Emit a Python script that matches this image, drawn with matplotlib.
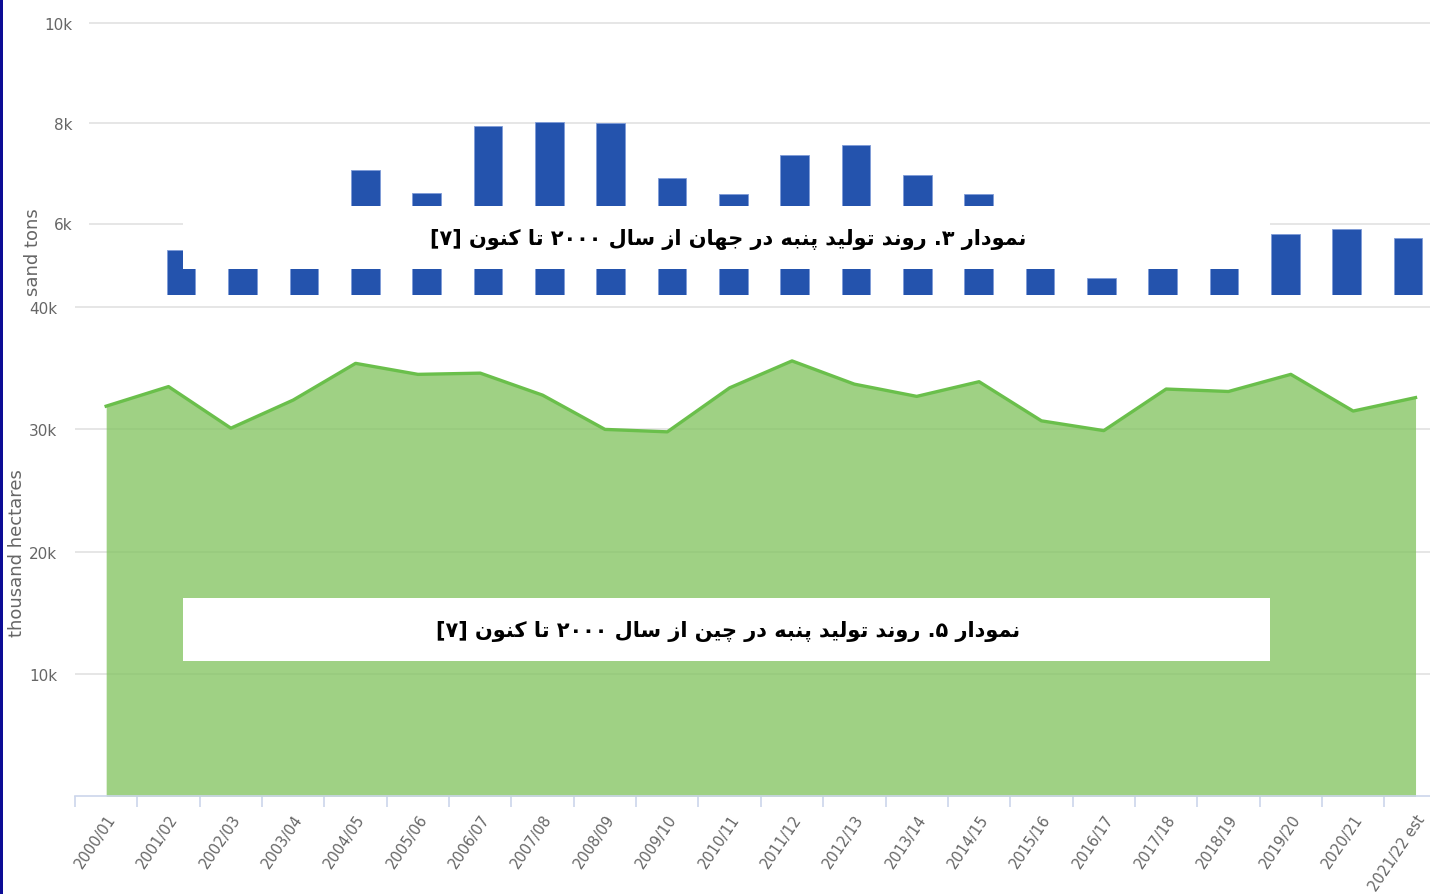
import re
import matplotlib

matplotlib.use('Agg')

import matplotlib.pyplot as plt
from matplotlib.patches import Rectangle

W, H = 1430, 895

seasons = ['2000/01', '2001/02', '2002/03', '2003/04', '2004/05', '2005/06',
           '2006/07', '2007/08', '2008/09', '2009/10', '2010/11', '2011/12',
           '2012/13', '2013/14', '2014/15', '2015/16', '2016/17', '2017/18',
           '2018/19', '2019/20', '2020/21', '2021/22 est']
# thousand hectares (lower chart)
area_vals = [31.9, 33.5, 30.1, 32.4, 35.4, 34.5, 34.6, 32.8, 30.0, 29.8, 33.4,
             35.6, 33.7, 32.7, 33.9, 30.7, 29.9, 33.3, 33.1, 34.5, 31.5, 32.6]
# upper chart bars (k), partly hidden behind caption
bar_vals = [5.47, 5.9, 5.8, 7.07, 6.61, 7.95, 8.03, 8.0, 6.9, 6.58, 7.37,
            7.57, 6.97, 6.58, 5.8, 4.91, 5.6, 5.7, 5.8, 5.9, 5.72]
bar_ticks = [6, 8, 10]
bar_ticklabels = ['6k', '8k', '10k']
area_ticks = [10, 20, 30, 40]
area_ticklabels = ['10k', '20k', '30k', '40k']

caption_top = 'نمودار ۳. روند تولید پنبه در جهان از سال ۲۰۰۰ تا کنون [۷]'
caption_bottom = 'نمودار ۵. روند تولید پنبه در چین از سال ۲۰۰۰ تا کنون [۷]'

# persian shaping by hand (iso, fin, ini, med)
FORMS = {
    'ا': ('\uFE8D', '\uFE8E', None, None),
    'ب': ('\uFE8F', '\uFE90', '\uFE91', '\uFE92'),
    'پ': ('\uFB56', '\uFB57', '\uFB58', '\uFB59'),
    'ت': ('\uFE95', '\uFE96', '\uFE97', '\uFE98'),
    'ج': ('\uFE9D', '\uFE9E', '\uFE9F', '\uFEA0'),
    'چ': ('\uFB7A', '\uFB7B', '\uFB7C', '\uFB7D'),
    'د': ('\uFEA9', '\uFEAA', None, None),
    'ر': ('\uFEAD', '\uFEAE', None, None),
    'ز': ('\uFEAF', '\uFEB0', None, None),
    'س': ('\uFEB1', '\uFEB2', '\uFEB3', '\uFEB4'),
    'ک': ('\uFB8E', '\uFB8F', '\uFB90', '\uFB91'),
    'ل': ('\uFEDD', '\uFEDE', '\uFEDF', '\uFEE0'),
    'م': ('\uFEE1', '\uFEE2', '\uFEE3', '\uFEE4'),
    'ن': ('\uFEE5', '\uFEE6', '\uFEE7', '\uFEE8'),
    'ه': ('\uFEE9', '\uFEEA', '\uFEEB', '\uFEEC'),
    'و': ('\uFEED', '\uFEEE', None, None),
    'ی': ('\uFBFC', '\uFBFD', '\uFBFE', '\uFBFF'),
}


def dual(c):
    return c in FORMS and FORMS[c][2] is not None


def fa(s):
    out = []
    for i, ch in enumerate(s):
        if ch not in FORMS:
            out.append(ch)
            continue
        prev = s[i - 1] if i > 0 else ''
        nxt = s[i + 1] if i + 1 < len(s) else ''
        jp = dual(prev)
        jn = dual(ch) and nxt in FORMS
        f = FORMS[ch]
        if jp and jn:
            out.append(f[3])
        elif jp:
            out.append(f[1])
        elif jn:
            out.append(f[2])
        else:
            out.append(f[0])
    vis = ''.join(out)[::-1]
    vis = re.sub('[0-9\u06F0-\u06F9]+', lambda m: m.group(0)[::-1], vis)
    return vis.translate(str.maketrans('[]()', '][)('))


grey = '#666666'
grid = '#e6e6e6'

fig = plt.figure(figsize=(W / 100, H / 100), dpi=100)

# upper bar chart (cropped)
bx0 = 89
step = 61.34
c0 = 181.2
ax1 = fig.add_axes([bx0 / W, 1 - 296 / H, (W - bx0) / W, 296 / H])
ax1.bar(range(len(bar_vals)), bar_vals, width=0.466, color='#2453ad',
        edgecolor='#7f9bd8', linewidth=0.6, zorder=3)
ax1.set_xlim((bx0 - c0) / step, (W - c0) / step)
ax1.set_ylim(6 - 71.5 / 50.1, 6 + 224.5 / 50.1)
ax1.set_yticks(bar_ticks)
ax1.set_yticklabels(bar_ticklabels)
ax1.yaxis.grid(True, color=grid, linewidth=1.4)
ax1.set_axisbelow(True)
ax1.tick_params(axis='y', length=0, pad=12, labelcolor=grey, labelsize=11)
ax1.set_xticks([])
for s in ax1.spines.values():
    s.set_visible(False)
fig.text(33 / W, 1 - 252 / H, 'sand tons', rotation=90, ha='center',
         va='center', color=grey, fontsize=13)

# lower area chart
step2 = 62.35
ax2 = fig.add_axes([75 / W, 1 - 797.3 / H, 22 * step2 / W, (797.3 - 300) / H])
x = range(len(seasons))
ax2.fill_between(x, area_vals, 0, color='#84c462', alpha=0.78, linewidth=0,
                 zorder=2)
ax2.plot(x, area_vals, color='#6abf4b', linewidth=2.4, zorder=3)
ax2.set_xlim(-0.5, len(seasons) - 0.5)
ax2.set_ylim(0, (797.3 - 300) / 12.23)
ax2.set_yticks(area_ticks)
ax2.set_yticklabels(area_ticklabels)
ax2.yaxis.grid(True, color=grid, linewidth=1.4)
ax2.set_axisbelow(True)
ax2.tick_params(axis='y', length=0, pad=13, labelcolor=grey, labelsize=11)
ax2.set_xticks(list(x))
ax2.set_xticklabels(seasons, rotation=56, ha='right', rotation_mode='anchor')
ax2.set_xticks([i - 0.5 for i in range(len(seasons) + 1)], minor=True)
ax2.tick_params(axis='x', which='major', length=0, pad=11, labelcolor=grey,
                labelsize=10.5)
ax2.tick_params(axis='x', which='minor', length=8, width=1.2, color='#ccd6eb')
for k in ['top', 'right', 'left']:
    ax2.spines[k].set_visible(False)
ax2.spines['bottom'].set_color('#ccd6eb')
ax2.spines['bottom'].set_linewidth(1.2)
fig.text(17 / W, 1 - 553 / H, 'thousand hectares', rotation=90, ha='center',
         va='center', color=grey, fontsize=13)

# caption boxes
for y0, cap in [(207, caption_top), (599, caption_bottom)]:
    fig.add_artist(Rectangle((183 / W, 1 - (y0 + 63) / H), (1270 - 183) / W,
                             63 / H, transform=fig.transFigure,
                             facecolor='white', edgecolor='none', zorder=5))
    fig.text(728 / W, 1 - (y0 + 33) / H, fa(cap), ha='center', va='center',
             fontsize=15, fontweight='bold', family='DejaVu Sans',
             color='black', zorder=6)

# left border
fig.add_artist(Rectangle((0, 0), 2.5 / W, 1, transform=fig.transFigure,
                         facecolor='#0c0c95', edgecolor='none', zorder=7))

fig.savefig('out.png', dpi=100)
